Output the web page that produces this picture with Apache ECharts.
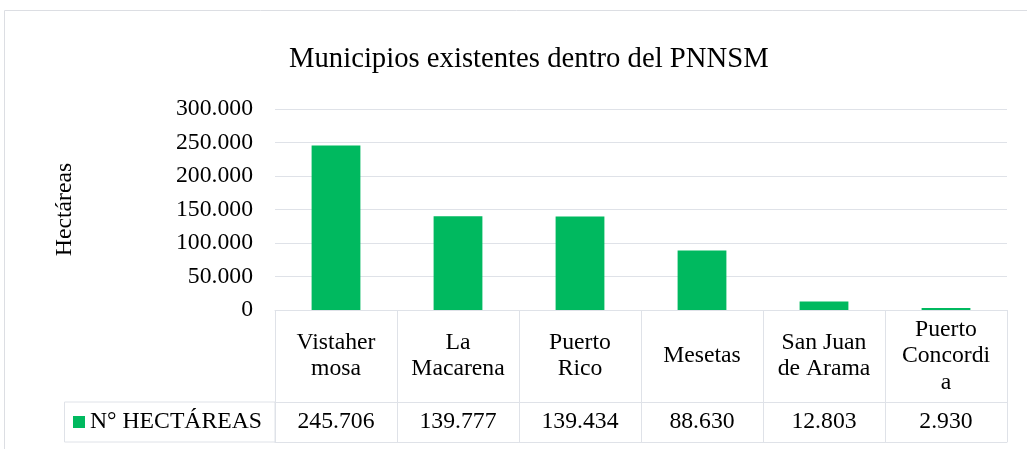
<!DOCTYPE html>
<html>
<head>
<meta charset="utf-8">
<title>Municipios existentes dentro del PNNSM</title>
<script src="https://cdn.jsdelivr.net/npm/echarts@6/dist/echarts.min.js"></script>
<style>
  html, body { margin: 0; padding: 0; background: #fff; }
  #main { width: 1027px; height: 449px; }
</style>
</head>
<body>
<div id="main"></div>
<script>
// datos
const categories = ['Vistaher\nmosa', 'La\nMacarena', 'Puerto\nRico', 'Mesetas', 'San Juan\nde Arama', 'Puerto\nConcordi\na'];
const hectareas = [245706, 139777, 139434, 88630, 12803, 2930];
const yTicks = [0, 50000, 100000, 150000, 200000, 250000, 300000];
const seriesName = 'N° HECTÁREAS';

const font = 'Liberation Serif, Times New Roman, serif';
const gridColor = '#dfe2e8';

// separador de miles con punto
function fmt(v) {
  return String(v).replace(/\B(?=(\d{3})+(?!\d))/g, '.');
}

const chart = echarts.init(document.getElementById('main'));

const option = {
  animation: false,
  title: {
    text: 'Municipios existentes dentro del PNNSM',
    left: 284,
    top: 40,
    textStyle: { fontFamily: font, fontSize: 28.7, fontWeight: 'normal', color: '#000' }
  },
  legend: {
    data: [seriesName],
    left: 73,
    top: 410,
    padding: 0,
    icon: 'rect',
    itemWidth: 12,
    itemHeight: 12,
    itemGap: 5,
    textStyle: { fontFamily: font, fontSize: 23.7, color: '#000' }
  },
  grid: { left: 275, right: 20, top: 109, bottom: 139, containLabel: false },
  xAxis: [
    {
      type: 'category',
      data: categories,
      axisLine: { show: true, lineStyle: { color: gridColor, width: 1 } },
      axisTick: { show: true, length: 132, interval: 0, lineStyle: { color: gridColor } },
      axisLabel: {
        interval: 0,
        margin: 46,
        verticalAlign: 'middle',
        lineHeight: 26.5,
        fontFamily: font,
        fontSize: 23.7,
        color: '#000'
      }
    },
    {
      type: 'category',
      data: hectareas.map(fmt),
      position: 'bottom',
      offset: 92,
      axisLine: { show: true, lineStyle: { color: gridColor } },
      axisTick: { show: false },
      axisLabel: {
        interval: 0,
        margin: 20,
        verticalAlign: 'middle',
        fontFamily: font,
        fontSize: 23.7,
        color: '#000'
      }
    },
    {
      type: 'category',
      data: categories,
      position: 'bottom',
      offset: 132,
      axisLine: { show: true, lineStyle: { color: gridColor } },
      axisTick: { show: false },
      axisLabel: { show: false }
    }
  ],
  yAxis: {
    type: 'value',
    min: yTicks[0],
    max: yTicks[yTicks.length - 1],
    interval: yTicks[1] - yTicks[0],
    name: 'Hectáreas',
    nameLocation: 'middle',
    nameRotate: 90,
    nameGap: 198,
    nameTextStyle: { fontFamily: font, fontSize: 23.7, color: '#000' },
    axisLine: { show: false },
    axisTick: { show: false },
    axisLabel: { margin: 22, fontFamily: font, fontSize: 23.7, color: '#000', formatter: fmt },
    splitLine: { lineStyle: { color: gridColor, width: 1 } }
  },
  series: [
    {
      name: seriesName,
      type: 'bar',
      data: hectareas,
      barWidth: '40%',
      itemStyle: { color: '#00b95f' }
    }
  ],
  graphic: [
    // borde del área del gráfico
    { type: 'rect', shape: { x: 4.5, y: 10.5, width: 1100, height: 500 }, style: { fill: 'none', stroke: '#dcdee3', lineWidth: 1 }, silent: true },
    // celda de la leyenda en la tabla
    { type: 'rect', shape: { x: 64.5, y: 402, width: 210.5, height: 40 }, style: { fill: 'none', stroke: gridColor, lineWidth: 1 }, silent: true }
  ]
};

chart.setOption(option);
</script>
</body>
</html>
